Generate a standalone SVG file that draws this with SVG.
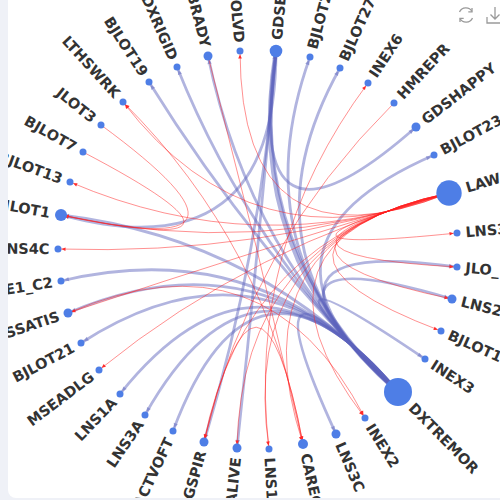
<svg xmlns="http://www.w3.org/2000/svg" width="500" height="500" viewBox="0 0 500 500">
<defs>
<clipPath id="card"><rect x="8" y="-8" width="500" height="506" rx="8"/></clipPath>
<marker id="ar" viewBox="-10 -3 10 6" refX="0" refY="0" markerWidth="10" markerHeight="6" markerUnits="userSpaceOnUse" orient="auto"><path d="M-7.5,-1.8 L-3.4,0 L-7.5,1.8 z" fill="#ff2a2a"/></marker>
<marker id="ab" viewBox="-10 -3 10 6" refX="0" refY="0" markerWidth="10" markerHeight="6" markerUnits="userSpaceOnUse" orient="auto"><path d="M-8,-2.2 L-3.4,0 L-8,2.2 z" fill="#6d74c4" fill-opacity="0.6"/></marker>
</defs>
<style>
.b{fill:none;stroke:#5b63bd;stroke-opacity:0.48;stroke-width:2.8;marker-end:url(#ab)}
.r{fill:none;stroke:#ff1f1f;stroke-opacity:0.7;stroke-width:0.7;marker-end:url(#ar)}
.n{fill:#4e7ee6}
.l{font-family:"DejaVu Sans","Liberation Sans",sans-serif;font-weight:bold;font-size:14.5px;fill:#333;dominant-baseline:central}
.e{text-anchor:end}
.ic{fill:none;stroke:#9a9a9a;stroke-width:1.3}
</style>
<rect x="0" y="0" width="500" height="500" fill="#eff1f7"/>
<rect x="8" y="-8" width="500" height="506" rx="8" fill="#ffffff"/>
<g clip-path="url(#card)">
<g id="connectors">
<path class="b" style="stroke-width:4.5" d="M398 392 Q242.2 255.7 276 51"/>
<path class="b" d="M398 392 Q246 252 276 51"/>
<path class="b" d="M398 392 Q249 255.2 208 56"/>
<path class="b" d="M398 392 Q252.1 254.1 177 67"/>
<path class="b" d="M398 392 Q254.9 252.6 149 82"/>
<path class="b" d="M398 392 Q238.8 255.1 310 57"/>
<path class="b" d="M398 392 Q235.8 254 340 68"/>
<path class="b" d="M398 392 Q226.4 245.3 434 155"/>
<path class="b" d="M398 392 Q224.1 234.1 457 267"/>
<path class="b" d="M398 392 Q224.6 230.9 452 299"/>
<path class="b" d="M398 392 Q227.3 224.9 425 359"/>
<path class="b" d="M398 392 Q236.2 217.4 336 434"/>
<path class="b" d="M398 392 Q252.5 217.7 173 431"/>
<path class="b" d="M398 392 Q255.3 219.3 145 415"/>
<path class="b" d="M398 392 Q257.8 221.4 120 394"/>
<path class="b" d="M398 392 Q261.7 226.5 81 343"/>
<path class="b" d="M398 392 Q263.7 232.7 61 281"/>
<path class="b" d="M398 392 Q263.7 239.3 61 215"/>
<path class="b" d="M398 392 Q263 229.5 68 313"/>
<path class="b" d="M276 51 Q240.4 282.2 416 127"/>
<path class="b" d="M276 51 Q275.9 273.4 61 215"/>
<path class="b" d="M276 51 Q261.6 250.7 204 442"/>
<path class="b" d="M276 51 Q258.3 250.1 237 448"/>
<path class="r" d="M449 193 Q219 257.4 457 233"/>
<path class="r" d="M449 193 Q219 254 457 267"/>
<path class="r" d="M449 193 Q219.5 250.8 452 299"/>
<path class="r" d="M449 193 Q220.6 247.6 441 331"/>
<path class="r" d="M449 193 Q228.2 238.9 365 418"/>
<path class="r" d="M449 193 Q237.8 235.8 269 449"/>
<path class="r" d="M449 193 Q234.4 236.3 303 444"/>
<path class="r" d="M449 193 Q241 235.9 237 448"/>
<path class="r" d="M449 193 Q244.3 236.5 204 442"/>
<path class="r" d="M449 193 Q254.8 243.7 99 370"/>
<path class="r" d="M449 193 Q257.9 249.4 68 313"/>
<path class="r" d="M449 193 Q258.9 255.8 58 249"/>
<path class="r" d="M449 193 Q258.6 259.2 61 215"/>
<path class="r" d="M449 193 Q257.7 262.5 70 182"/>
<path class="r" d="M449 193 Q252.4 270.5 123 102"/>
<path class="r" d="M449 193 Q240.7 275.6 240 51"/>
<path class="r" d="M101 125 Q293.4 266 61 215"/>
<path class="r" d="M83 152 Q295.2 263.3 61 215"/>
<path class="r" d="M303 444 Q267 245.4 123 102"/>
<path class="r" d="M269 449 Q245.9 246.8 368 83"/>
<path class="r" d="M394 103 Q249.8 245.5 204 442"/>
<path class="r" d="M68 313 Q266.3 226.9 365 418"/>
<path class="r" d="M208 56 Q258.5 250 303 444"/>
<path class="r" d="M204 442 Q258.9 211.4 303 444"/>
</g>
<g id="n-JLO_" transform="translate(457 267)"><circle class="n" r="3.5"/><text class="l" x="8.5" transform="rotate(4.88)">JLO_</text></g>
<g id="n-LNS2" transform="translate(452 299)"><circle class="n" r="4.5"/><text class="l" x="9.5" transform="rotate(14.18)">LNS2</text></g>
<g id="n-BJLOT1" transform="translate(441 331)"><circle class="n" r="3.5"/><text class="l" x="8.5" transform="rotate(23.87)">BJLOT1</text></g>
<g id="n-INEX3" transform="translate(425 359)"><circle class="n" r="3.5"/><text class="l" x="8.5" transform="rotate(33.13)">INEX3</text></g>
<g id="n-DXTREMOR" transform="translate(398 392)"><circle class="n" r="14"/><text class="l" x="19" transform="rotate(45.4)">DXTREMOR</text></g>
<g id="n-INEX2" transform="translate(365 418)"><circle class="n" r="3.5"/><text class="l" x="8.5" transform="rotate(57.5)">INEX2</text></g>
<g id="n-LNS3C" transform="translate(336 434)"><circle class="n" r="4.5"/><text class="l" x="9.5" transform="rotate(67.03)">LNS3C</text></g>
<g id="n-CAREG" transform="translate(303 444)"><circle class="n" r="5"/><text class="l" x="10" transform="rotate(76.94)">CAREG</text></g>
<g id="n-LNS1" transform="translate(269 449)"><circle class="n" r="3.5"/><text class="l" x="8.5" transform="rotate(86.84)">LNS1</text></g>
<g id="n-ALIVE" transform="translate(237 448)"><circle class="n" r="4.5"/><text class="l e" x="-9.5" transform="rotate(-83.95)">ALIVE</text></g>
<g id="n-GSPIR" transform="translate(204 442)"><circle class="n" r="4.5"/><text class="l e" x="-9.5" transform="rotate(-74.3)">GSPIR</text></g>
<g id="n-ACTVOFT" transform="translate(173 431)"><circle class="n" r="3.5"/><text class="l e" x="-8.5" transform="rotate(-64.84)">ACTVOFT</text></g>
<g id="n-LNS3A" transform="translate(145 415)"><circle class="n" r="3.5"/><text class="l e" x="-8.5" transform="rotate(-55.6)">LNS3A</text></g>
<g id="n-LNS1A" transform="translate(120 394)"><circle class="n" r="3.5"/><text class="l e" x="-8.5" transform="rotate(-46.22)">LNS1A</text></g>
<g id="n-MSEADLG" transform="translate(99 370)"><circle class="n" r="3.5"/><text class="l e" x="-8.5" transform="rotate(-37.04)">MSEADLG</text></g>
<g id="n-BJLOT21" transform="translate(81 343)"><circle class="n" r="3.5"/><text class="l e" x="-8.5" transform="rotate(-27.72)">BJLOT21</text></g>
<g id="n-OSSATIS" transform="translate(68 313)"><circle class="n" r="4.5"/><text class="l e" x="-9.5" transform="rotate(-18.34)">OSSATIS</text></g>
<g id="n-E1_C2" transform="translate(61 281)"><circle class="n" r="3.5"/><text class="l e" x="-8.5" transform="rotate(-8.94)">E1_C2</text></g>
<g id="n-NS4C" transform="translate(58 249)"><circle class="n" r="3.5"/><text class="l e" x="-8.5" transform="rotate(0.29)">NS4C</text></g>
<g id="n-JLOT1" transform="translate(61 215)"><circle class="n" r="6"/><text class="l e" x="-11" transform="rotate(10.07)">JLOT1</text></g>
<g id="n-BJLOT13" transform="translate(70 182)"><circle class="n" r="3.5"/><text class="l e" x="-8.5" transform="rotate(19.88)">BJLOT13</text></g>
<g id="n-BJLOT7" transform="translate(83 152)"><circle class="n" r="3.5"/><text class="l e" x="-8.5" transform="rotate(29.25)">BJLOT7</text></g>
<g id="n-JLOT3" transform="translate(101 125)"><circle class="n" r="3.5"/><text class="l e" x="-8.5" transform="rotate(38.53)">JLOT3</text></g>
<g id="n-LTHSWRK" transform="translate(123 102)"><circle class="n" r="3.5"/><text class="l e" x="-8.5" transform="rotate(47.62)">LTHSWRK</text></g>
<g id="n-BJLOT19" transform="translate(149 82)"><circle class="n" r="3.5"/><text class="l e" x="-8.5" transform="rotate(57.02)">BJLOT19</text></g>
<g id="n-DXRIGID" transform="translate(177 67)"><circle class="n" r="3.5"/><text class="l e" x="-8.5" transform="rotate(66.13)">DXRIGID</text></g>
<g id="n-BRADY" transform="translate(208 56)"><circle class="n" r="4.5"/><text class="l e" x="-9.5" transform="rotate(75.55)">BRADY</text></g>
<g id="n-OLVD" transform="translate(240 51)"><circle class="n" r="3.5"/><text class="l e" x="-8.5" transform="rotate(84.83)">OLVD</text></g>
<g id="n-GDSE" transform="translate(276 51)"><circle class="n" r="6.3"/><text class="l" x="11.3" transform="rotate(-84.83)">GDSE</text></g>
<g id="n-BJLOT2" transform="translate(310 57)"><circle class="n" r="3.5"/><text class="l" x="8.5" transform="rotate(-74.92)">BJLOT2</text></g>
<g id="n-BJLOT27" transform="translate(340 68)"><circle class="n" r="3.5"/><text class="l" x="8.5" transform="rotate(-65.75)">BJLOT27</text></g>
<g id="n-INEX6" transform="translate(368 83)"><circle class="n" r="3.5"/><text class="l" x="8.5" transform="rotate(-56.63)">INEX6</text></g>
<g id="n-HMREPR" transform="translate(394 103)"><circle class="n" r="3.5"/><text class="l" x="8.5" transform="rotate(-47.22)">HMREPR</text></g>
<g id="n-GDSHAPPY" transform="translate(416 127)"><circle class="n" r="4.5"/><text class="l" x="9.5" transform="rotate(-37.9)">GDSHAPPY</text></g>
<g id="n-BJLOT23" transform="translate(434 155)"><circle class="n" r="3.5"/><text class="l" x="8.5" transform="rotate(-28.36)">BJLOT23</text></g>
<g id="n-LAW" transform="translate(449 193)"><circle class="n" r="12.7"/><text class="l" x="17.7" transform="rotate(-16.62)">LAW</text></g>
<g id="n-LNS3" transform="translate(457 233)"><circle class="n" r="3.5"/><text class="l" x="8.5" transform="rotate(-4.88)">LNS3</text></g>
</g>
<g id="toolbox">
<path class="ic" d="M459.5 12 A7 7 0 0 1 472 11.5 M472.5 18 A7 7 0 0 1 460 18.5"/>
<path class="ic" d="M472 8 L472 11.8 L468.3 11.8 M460 22 L460 18.3 L463.7 18.3"/>
<path class="ic" d="M495 7 L495 19 M490.5 14.5 L495 19 L499.5 14.5 M487 17 L487 23 L503 23"/>
</g>
</svg>
